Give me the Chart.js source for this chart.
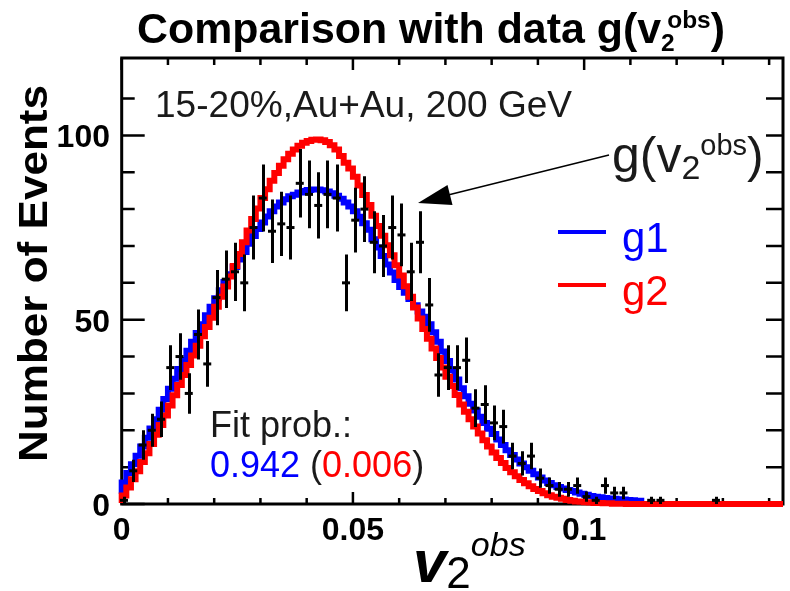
<!DOCTYPE html>
<html>
<head>
<meta charset="utf-8">
<script src="https://cdn.jsdelivr.net/npm/chart.js@4.4.1/dist/chart.umd.min.js"></script>
<style>
  html, body { margin: 0; padding: 0; background: #ffffff; }
  #wrap { width: 790px; height: 591px; }
</style>
</head>
<body>
<div id="wrap"><canvas id="c" width="790" height="591"></canvas></div>
<script>
// Measured v2obs distribution (bin centres, counts, statistical errors)
const obsV2 = [0.0005,0.0025,0.0045,0.0065,0.0085,0.0105,0.0125,0.0145,0.0165,0.0185,
  0.0205,0.0225,0.0245,0.0265,0.0285,0.0305,0.0325,0.0345,0.0365,0.0385,
  0.0405,0.0425,0.0445,0.0465,0.0485,0.0505,0.0525,0.0545,0.0565,0.0585,
  0.0605,0.0625,0.0645,0.0665,0.0685,0.0705,0.0725,0.0745,0.0765,0.0785,
  0.0805,0.0825,0.0845,0.0865,0.0885,0.0905,0.0925,0.0945,0.0965,0.0985,
  0.1005,0.1025,0.1045,0.1065,0.1085,0.1145,0.1165,0.1285];
const obsCounts = [1,9,16,20,23,37,40,30,46,38,
  56,61,63,60,75,83,74,76,75,87,
  84,81,84,83,60,77,80,71,70,75,
  73,63,71,54,35,37,37,39,26,27,
  22,21,13,11,13,7,5,4,4,5,
  2,1,5,3,3,1,1,1];
const obsErrors = [1,3,4,4.5,4.8,6.1,6.3,5.5,6.8,6.2,
  7.5,7.8,7.9,7.7,8.7,9.1,8.6,8.7,8.7,9.3,
  9.2,9,9.2,9.1,7.7,8.8,8.9,8.4,8.4,8.7,
  8.5,7.9,8.4,7.3,5.9,6.1,6.1,6.2,5.1,5.2,
  4.7,4.6,3.6,3.3,3.6,2.6,2.2,2,2,2.2,
  1.4,1,2.2,1.7,1.7,1,1,1];

// Fitted distributions, histogrammed in bins of width 0.001 starting at 0
const fitBinWidth = 0.001;
const g1Values = [2.8,5.8,8.4,10.8,13.1,15.6,18.0,20.5,23.0,25.6,
  28.5,31.3,34.0,36.6,39.1,41.6,44.0,46.4,48.8,51.2,
  53.5,55.8,58.0,60.2,62.3,64.3,66.3,68.4,70.6,72.7,
  74.6,76.4,78.0,79.4,80.7,81.8,82.7,83.5,83.9,84.5,
  84.9,85.2,85.3,85.3,85.1,84.8,84.3,83.6,82.8,81.8,
  80.7,79.4,77.9,76.2,74.4,71.8,69.6,67.3,65.0,62.8,
  60.8,58.9,57.3,55.6,53.9,52.2,50.8,48.8,46.6,44.0,
  41.4,38.8,36.3,33.8,31.4,29.2,27.2,25.4,23.7,22.0,
  20.4,19.0,17.5,16.0,14.6,13.3,12.1,11.0,10.0,9.0,
  8.1,7.2,6.4,5.7,5.1,4.6,4.2,3.8,3.5,3.1,
  2.8,2.5,2.2,2.0,1.8,1.6,1.5,1.4,1.3,1.2,
  1.1,1.0,0.9];
const g2Values = [0.3,2.3,4.5,6.7,8.9,11.4,13.8,16.3,18.8,21.4,
  24.0,26.7,29.5,32.3,35.0,37.7,40.3,42.9,45.5,48.0,
  50.5,53.5,56.2,59.0,61.7,64.6,67.8,71.0,74.2,77.3,
  80.2,83.0,85.4,87.7,89.8,91.8,93.5,95.0,96.2,97.2,
  98.0,98.5,98.8,98.9,98.7,98.2,97.3,96.2,94.4,92.6,
  91.0,88.8,86.4,83.8,81.1,78.2,75.4,72.8,70.2,67.5,
  64.8,62.0,59.1,56.2,53.3,50.3,47.5,44.8,42.2,39.6,
  37.0,34.5,32.0,29.6,27.0,25.0,23.0,21.0,19.1,17.3,
  15.6,14.0,12.5,11.1,9.8,8.6,7.5,6.5,5.6,4.8,
  4.1,3.5,2.9,2.4,2.0,1.7,1.4,1.1,0.9,0.7,
  0.6,0.5,0.4,0.3,0.3,0.2,0.2,0.1,0.1,0.1,
  0,0,0,0,0,0,0,0,0,0,
  0,0,0,0,0,0,0,0,0,0,
  0,0,0,0,0,0,0,0,0,0,
  0,0,0];

// Axis ticks and labels
const xMajorTicks = [0, 0.05, 0.1];
const xTickLabels = ['0', '0.05', '0.1'];
const xMinorTicks = [0.01,0.02,0.03,0.04,0.06,0.07,0.08,0.09,0.11,0.12,0.13,0.14];
const yMajorTicks = [0, 50, 100];
const yTickLabels = ['0', '50', '100'];
const yMinorTicks = [10,20,30,40,60,70,80,90,110];

const fitProbG1 = '0.942';
const fitProbG2 = '0.006';

const BLUE = '#0000ff', RED = '#ff0000', INK = '#1a1a1a';

function histPoints(values) {
  const pts = values.map((v, i) => ({ x: i * fitBinWidth, y: v }));
  pts.push({ x: values.length * fitBinWidth, y: values[values.length - 1] });
  return pts;
}

// lay out a sequence of text runs (supports stacked sub/superscripts)
function layoutRuns(ctx, runs) {
  let cx = 0, pending = 0;
  const items = [];
  for (const r of runs) {
    ctx.font = r.font;
    const w = ctx.measureText(r.t).width;
    items.push(Object.assign({}, r, { x: cx + (r.dx || 0), w }));
    if (r.stack) { pending = Math.max(pending, w + (r.dx || 0)); }
    else { cx += Math.max(w + (r.dx || 0), pending); pending = 0; }
  }
  return { items, width: cx + pending };
}
function drawRuns(ctx, runs, x, y, targetWidth) {
  const L = layoutRuns(ctx, runs);
  const sx = targetWidth ? targetWidth / L.width : 1;
  ctx.save();
  ctx.translate(x, y);
  ctx.scale(sx, 1);
  ctx.textBaseline = 'alphabetic';
  ctx.textAlign = 'left';
  for (const it of L.items) {
    ctx.font = it.font;
    ctx.fillStyle = it.color || INK;
    ctx.fillText(it.t, it.x, it.dy || 0);
  }
  ctx.restore();
}

const FONT = '"Liberation Sans", Arial, Helvetica, sans-serif';

const decorations = {
  id: 'decorations',
  beforeDatasetsDraw(chart) {
    const { ctx, chartArea: a, scales: { x, y } } = chart;
    ctx.save();
    ctx.strokeStyle = '#000';
    ctx.lineCap = 'butt';
    // ticks on all four sides, pointing into the frame
    ctx.lineWidth = 2.5;
    ctx.beginPath();
    const xt = (v, bottomLen, topLen) => {
      const px = x.getPixelForValue(v);
      ctx.moveTo(px, a.bottom); ctx.lineTo(px, a.bottom - bottomLen);
      ctx.moveTo(px, a.top); ctx.lineTo(px, a.top + topLen);
    };
    xMajorTicks.forEach(v => xt(v, 12, 12));
    xMinorTicks.forEach(v => xt(v, 6, 7));
    const yt = (v, leftLen, rightLen) => {
      const py = y.getPixelForValue(v);
      ctx.moveTo(a.left, py); ctx.lineTo(a.left + leftLen, py);
      ctx.moveTo(a.right, py); ctx.lineTo(a.right - rightLen, py);
    };
    yMajorTicks.forEach(v => yt(v, 23, 17));
    yMinorTicks.forEach(v => yt(v, 13, 17));
    ctx.stroke();
    // frame
    ctx.lineWidth = 3;
    ctx.strokeRect(a.left, a.top, a.right - a.left, a.bottom - a.top);
    ctx.restore();
  },
  afterDatasetsDraw(chart) {
    const { ctx, scales: { x, y } } = chart;
    // vertical error bars of the measured points
    ctx.save();
    ctx.strokeStyle = '#000';
    ctx.lineWidth = 3;
    ctx.beginPath();
    obsV2.forEach((v, i) => {
      const px = Math.round(x.getPixelForValue(v)) + 0.5;
      ctx.moveTo(px, y.getPixelForValue(Math.max(0, obsCounts[i] - obsErrors[i])));
      ctx.lineTo(px, y.getPixelForValue(obsCounts[i] + obsErrors[i]));
    });
    ctx.stroke();
    ctx.restore();
  },
  afterDraw(chart) {
    const { ctx, scales: { x, y } } = chart;
    ctx.save();
    // tick labels
    ctx.fillStyle = '#000';
    ctx.font = 'bold 32px ' + FONT;
    ctx.textBaseline = 'alphabetic';
    ctx.textAlign = 'center';
    xMajorTicks.forEach((v, i) => ctx.fillText(xTickLabels[i], x.getPixelForValue(v), 540));
    ctx.textAlign = 'right';
    yMajorTicks.forEach((v, i) => ctx.fillText(yTickLabels[i], 110, y.getPixelForValue(v) + 12));
    ctx.restore();

    // title
    drawRuns(ctx, [
      { t: 'Comparison with data g(v', font: 'bold 42px ' + FONT, color: '#000' },
      { t: '2', font: 'bold 24px ' + FONT, dy: 8, stack: true, color: '#000' },
      { t: 'obs', font: 'bold 24px ' + FONT, dy: -15, dx: 6, color: '#000' },
      { t: ')', font: 'bold 42px ' + FONT, color: '#000' }
    ], 137, 43, 588);

    // y axis title
    ctx.save();
    ctx.translate(47, 462);
    ctx.rotate(-Math.PI / 2);
    drawRuns(ctx, [{ t: 'Number of Events', font: 'bold 40px ' + FONT, color: '#000' }], 0, 0, 377);
    ctx.restore();

    // x axis title
    drawRuns(ctx, [
      { t: 'v', font: 'italic bold 60px ' + FONT, color: '#000' },
      { t: '2', font: '44px ' + FONT, dy: 6, color: '#000' },
      { t: 'obs', font: 'italic 34px ' + FONT, dy: -26, color: '#000' }
    ], 413, 582);

    // annotations
    drawRuns(ctx, [{ t: '15-20%,Au+Au, 200 GeV', font: '36px ' + FONT, color: INK }], 155, 117, 417);
    drawRuns(ctx, [
      { t: 'g(v', font: '50px ' + FONT, color: INK },
      { t: '2', font: '34px ' + FONT, dy: 7, color: INK },
      { t: 'obs', font: '29px ' + FONT, dy: -17, color: INK },
      { t: ')', font: '50px ' + FONT, color: INK }
    ], 612, 172);

    // arrow pointing at the data
    ctx.save();
    ctx.strokeStyle = '#000';
    ctx.fillStyle = '#000';
    ctx.lineWidth = 1.5;
    ctx.beginPath();
    ctx.moveTo(609, 155); ctx.lineTo(448, 195);
    ctx.stroke();
    ctx.beginPath();
    ctx.moveTo(418, 203); ctx.lineTo(447.5, 185); ctx.lineTo(452.5, 205); ctx.closePath();
    ctx.fill();
    ctx.restore();

    // legend
    ctx.save();
    ctx.lineWidth = 4;
    ctx.strokeStyle = BLUE;
    ctx.beginPath(); ctx.moveTo(558, 232); ctx.lineTo(606, 232); ctx.stroke();
    ctx.strokeStyle = RED;
    ctx.beginPath(); ctx.moveTo(558, 285); ctx.lineTo(606, 285); ctx.stroke();
    ctx.restore();
    drawRuns(ctx, [{ t: 'g1', font: '42px ' + FONT, color: BLUE }], 622, 252);
    drawRuns(ctx, [{ t: 'g2', font: '42px ' + FONT, color: RED }], 622, 305);

    // fit probabilities
    drawRuns(ctx, [{ t: 'Fit prob.:', font: '36px ' + FONT, color: INK }], 210, 437);
    drawRuns(ctx, [
      { t: fitProbG1, font: '36px ' + FONT, color: BLUE },
      { t: ' (', font: '36px ' + FONT, color: INK },
      { t: fitProbG2, font: '36px ' + FONT, color: RED },
      { t: ')', font: '36px ' + FONT, color: INK }
    ], 210, 477);
  }
};

new Chart(document.getElementById('c'), {
  type: 'line',
  data: {
    datasets: [
      {
        label: 'data', type: 'scatter',
        data: obsV2.map((v, i) => ({ x: v, y: obsCounts[i] })),
        pointStyle: 'line', pointRadius: 4, pointBorderWidth: 3,
        borderColor: '#000', backgroundColor: '#000', showLine: false, clip: false
      },
      {
        label: 'g2', data: histPoints(g2Values), stepped: 'after',
        borderColor: RED, borderWidth: 6, pointRadius: 0, fill: false,
        borderJoinStyle: 'miter', borderCapStyle: 'butt', clip: false
      },
      {
        label: 'g1', data: histPoints(g1Values), stepped: 'after',
        borderColor: BLUE, borderWidth: 6, pointRadius: 0, fill: false,
        borderJoinStyle: 'miter', borderCapStyle: 'butt', clip: false
      }
    ]
  },
  options: {
    responsive: false,
    animation: false,
    devicePixelRatio: 1,
    events: [],
    layout: { padding: { left: 121.7, right: 3.3, top: 58, bottom: 87 } },
    scales: {
      x: { type: 'linear', min: 0, max: 0.143, display: false },
      y: { type: 'linear', min: 0, max: 121, display: false }
    },
    plugins: { legend: { display: false }, tooltip: { enabled: false }, title: { display: false } }
  },
  plugins: [decorations]
});
</script>
</body>
</html>
